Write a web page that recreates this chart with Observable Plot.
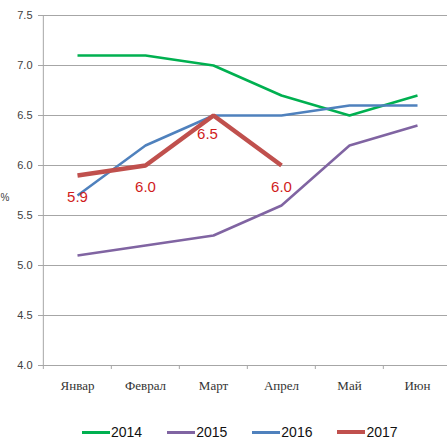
<!DOCTYPE html>
<html>
<head>
<meta charset="utf-8">
<script src="https://cdn.jsdelivr.net/npm/d3@7"></script>
<script src="https://cdn.jsdelivr.net/npm/@observablehq/plot@0.6"></script>
<style>
  body { margin: 0; background: #fff; width: 447px; height: 439px; overflow: hidden; font-family: "Liberation Sans", Arial, sans-serif; }
  #legend { display: flex; align-items: center; height: 34px; padding-left: 82px; box-sizing: border-box; }
  .item { display: flex; align-items: center; margin-right: 25px; font-size: 14px; color: #111; }
  .sw { display: inline-block; width: 28px; height: 3px; margin-right: 1px; }
</style>
</head>
<body>
<div id="chart"></div>
<div id="legend"></div>
<script>
const months = ["Январ", "Феврал", "Март", "Апрел", "Май", "Июн"];
const years = ["2014", "2015", "2016", "2017"];
const values2014 = [7.1, 7.1, 7.0, 6.7, 6.5, 6.7];
const values2015 = [5.1, 5.2, 5.3, 5.6, 6.2, 6.4];
const values2016 = [5.7, 6.2, 6.5, 6.5, 6.6, 6.6];
const values2017 = [5.9, 6.0, 6.5, 6.0];
const yTicks = [4.0, 4.5, 5.0, 5.5, 6.0, 6.5, 7.0, 7.5];
const colors = ["#00b050", "#8064a2", "#4f81bd", "#c0504d"];
const widths = [2.5, 2.5, 2.5, 4.5];

const seriesValues = [values2014, values2015, values2016, values2017];
const rows = [];
seriesValues.forEach((vals, i) => vals.forEach((v, j) => rows.push({year: years[i], month: months[j], value: v})));
const labels2017 = rows.filter(d => d.year === "2017");
const peak2017 = labels2017.filter(d => d.month === "Март");
const otherLabels2017 = labels2017.filter(d => d.month !== "Март");

const step = (452 - 42) / months.length;
const labelFont = "Liberation Sans, Arial, sans-serif";

const chart = Plot.plot({
  width: 447,
  height: 415,
  marginLeft: 42,
  marginRight: 0,
  marginTop: 15,
  marginBottom: 50,
  style: {background: "#fff"},
  x: {type: "point", domain: months, range: [42, 452], padding: 0.5},
  y: {domain: [4, 7.5]},
  marks: [
    Plot.gridY(yTicks, {stroke: "#a6a6a6", strokeOpacity: 1, strokeWidth: 1}),
    Plot.axisY({ticks: yTicks, tickSize: 4, tickPadding: 6, tickFormat: d => d.toFixed(1),
      stroke: "#a6a6a6", fontSize: 11, fill: "#404040", fontFamily: labelFont, label: null}),
    Plot.text(["%"], {frameAnchor: "left", dx: -42, dy: 7, textAnchor: "start", fontSize: 10,
      fill: "#404040", fontFamily: labelFont}),
    Plot.ruleX([0], {x: () => months[0], dx: -step / 2, y1: 7.5, y2: 4, stroke: "#a6a6a6"}),
    Plot.ruleX(months, {x: d => d, dx: -step / 2, y1: 4, y2: 3.96, stroke: "#a6a6a6"}),
    Plot.axisX({tickSize: 0, tickPadding: 15, fontSize: 13, fill: "#333",
      fontFamily: "Liberation Serif, DejaVu Serif, serif", label: null}),
    ...years.map((yr, i) => Plot.line(rows.filter(d => d.year === yr), {
      x: "month", y: "value", stroke: colors[i], strokeWidth: widths[i], strokeLinejoin: "miter", strokeLinecap: "butt"
    })),
    Plot.text(otherLabels2017, {x: "month", y: "value", text: d => d.value.toFixed(1),
      dy: 22, fill: "#d01c1c", fontSize: 15, fontFamily: labelFont}),
    Plot.text(peak2017, {x: "month", y: "value", text: d => d.value.toFixed(1),
      dy: 19, dx: -6, fill: "#d01c1c", fontSize: 15, fontFamily: labelFont}),
  ]
});
document.getElementById("chart").appendChild(chart);

const legend = document.getElementById("legend");
years.forEach((yr, i) => {
  const it = document.createElement("div");
  it.className = "item";
  const sw = document.createElement("span");
  sw.className = "sw";
  sw.style.background = colors[i];
  sw.style.height = (i === 3 ? 4.5 : 3) + "px";
  it.appendChild(sw);
  it.appendChild(document.createTextNode(yr));
  legend.appendChild(it);
});
</script>
</body>
</html>
